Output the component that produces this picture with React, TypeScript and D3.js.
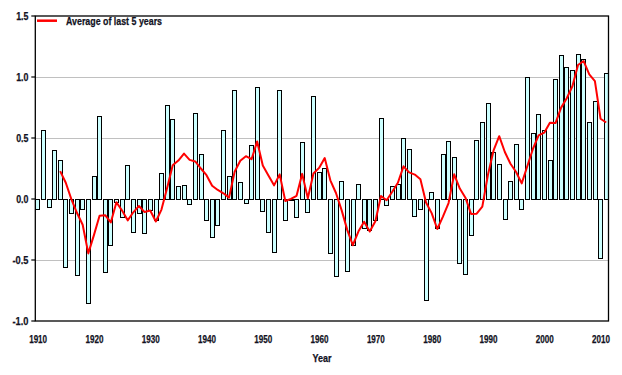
import React from "react";
import * as d3 from "d3";

const years: number[] = d3.range(1910, 2012);

const anomalies: number[] = [
  -0.082, 0.566, -0.066, 0.402, 0.32, -0.557, -0.115, -0.623, -0.082, -0.852,
  0.191, 0.68, -0.601, -0.377, -0.027, -0.15, 0.279, -0.27, -0.115, -0.279,
  -0.087, -0.169, 0.213, 0.77, 0.656, 0.107, 0.115, -0.041, 0.702, 0.369,
  -0.172, -0.311, -0.216, 0.566, 0.189, 0.893, 0.139, -0.033, 0.443, 0.918,
  -0.098, -0.27, -0.434, 0.893, -0.172, -0.011, -0.148, 0.467, -0.107, 0.844,
  0.221, 0.254, -0.445, -0.631, 0.148, -0.593, -0.374, 0.126, -0.238, -0.251,
  -0.175, 0.664, -0.052, 0.107, 0.123, 0.5, 0.41, -0.139, -0.082, -0.828,
  0.057, -0.238, 0.369, 0.475, 0.347, -0.525, -0.612, -0.295, 0.484, 0.631,
  0.787, 0.385, 0.287, -0.164, 0.148, 0.451, -0.082, 1.0, 0.541, 0.697,
  0.566, 0.32, 0.984, 1.18, 1.08, 1.057, 1.19, 1.148, 0.631, 0.806,
  -0.484, 1.033,
];

const avgYears: number[] = d3.range(1914, 2012);
const avgValues: number[] = [
  0.228, 0.133, -0.003, -0.115, -0.211, -0.446,
  -0.296, -0.137, -0.133, -0.192, -0.027, -0.095, -0.175, -0.109, -0.057, -0.107,
  -0.094, -0.184, -0.087, 0.09, 0.277, 0.315, 0.372, 0.321, 0.308, 0.25,
  0.195, 0.109, 0.074, 0.047, 0.011, 0.224, 0.314, 0.351, 0.326, 0.472,
  0.274, 0.192, 0.112, 0.202, -0.016, 0.001, 0.026, 0.206, 0.006, 0.209,
  0.255, 0.336, 0.153, 0.049, -0.091, -0.253, -0.379, -0.265, -0.186, -0.266,
  -0.182, 0.025, -0.01, 0.059, 0.133, 0.268, 0.218, 0.2, 0.162, -0.028,
  -0.116, -0.246, -0.144, -0.033, 0.202, 0.086, 0.011, -0.122, -0.12, -0.063,
  0.199, 0.398, 0.515, 0.385, 0.289, 0.221, 0.128, 0.271, 0.412, 0.521,
  0.544, 0.625, 0.622, 0.749, 0.826, 0.924, 1.098, 1.131, 1.021, 0.966,
  0.658, 0.627,
];

const yTicks: number[] = [-1.0, -0.5, 0.0, 0.5, 1.0, 1.5];
const xTickYears: number[] = [1910, 1920, 1930, 1940, 1950, 1960, 1970, 1980, 1990, 2000, 2010];
const legendLabel = "Average of last 5 years";
const xTitle = "Year";

const W = 622;
const H = 375;
const left = 35.3;
const right = 608.5;
const top = 16;
const bottom = 321;

const FONT = "'Liberation Sans Narrow', 'Arial Narrow', 'Liberation Sans', Arial, sans-serif";
const TEXT_COLOR = "#111122";
const textStyle = {
  fontSize: 11.5,
  fontWeight: "bold" as const,
  fill: TEXT_COLOR,
  stroke: TEXT_COLOR,
  strokeWidth: 0.25,
};

export default function App() {
  const x = d3
    .scaleBand<number>()
    .domain(years)
    .range([left, right])
    .paddingInner(0.17)
    .paddingOuter(0);
  const y = d3.scaleLinear().domain([-1, 1.5]).range([bottom, top]);
  const bw = x.bandwidth();

  const line = d3
    .line<number>()
    .x((_, i) => (x(avgYears[i]) as number) + bw / 2)
    .y((d) => y(d));

  return (
    <svg
      width={W}
      height={H}
      style={{ position: "absolute", left: 0, top: 0, background: "#fff" }}
      fontFamily={FONT}
    >
      {/* gridlines */}
      {yTicks
        .filter((t) => t !== 0 && t !== -1 && t !== 1.5)
        .map((t) => (
          <line
            key={"g" + t}
            x1={left}
            x2={right}
            y1={Math.round(y(t)) + 0.5}
            y2={Math.round(y(t)) + 0.5}
            stroke="#c0c0c0"
            strokeWidth={1}
          />
        ))}
      {/* bars */}
      {years.map((yr, i) => {
        const v = anomalies[i];
        const y0 = y(0);
        const y1 = y(v);
        const bx = Math.round(x(yr) as number) + 0.5;
        return (
          <rect
            key={yr}
            x={bx}
            y={Math.round(Math.min(y0, y1)) + 0.5}
            width={Math.round(bw) - 1}
            height={Math.round(Math.abs(y1 - y0))}
            fill="#ccffff"
            stroke="#000"
            strokeWidth={1}
          />
        );
      })}
      {/* average line */}
      <path
        d={line(avgValues) || ""}
        fill="none"
        stroke="#ff0000"
        strokeWidth={2}
        strokeLinejoin="round"
      />
      {/* frame */}
      <rect
        x={left}
        y={top}
        width={right - left}
        height={bottom - top}
        fill="none"
        stroke="#000"
        strokeWidth={1.3}
      />
      {/* y ticks */}
      {yTicks.map((t) => {
        const label = t.toFixed(1);
        return (
          <g key={"yt" + t}>
            <line
              x1={left - 4}
              x2={left}
              y1={y(t)}
              y2={y(t)}
              stroke="#000"
              strokeWidth={1.2}
            />
            <text
              x={28.5}
              y={y(t)}
              dy="0.35em"
              textAnchor="end"
              {...textStyle}
              textLength={label.startsWith("-") ? 16 : 12.3}
              lengthAdjust="spacingAndGlyphs"
            >
              {label}
            </text>
          </g>
        );
      })}
      {/* x labels */}
      {xTickYears.map((yr) => (
        <text
          key={"xt" + yr}
          x={(x(yr) as number) + bw / 2 + 0.5}
          y={343}
          textAnchor="middle"
          {...textStyle}
          textLength={18}
          lengthAdjust="spacingAndGlyphs"
        >
          {yr}
        </text>
      ))}
      <text
        x={322}
        y={362}
        textAnchor="middle"
        {...textStyle}
        textLength={19}
        lengthAdjust="spacingAndGlyphs"
      >
        {xTitle}
      </text>
      {/* legend */}
      <line x1={37} x2={57} y1={20.7} y2={20.7} stroke="#ff0000" strokeWidth={2.5} />
      <text
        x={66}
        y={25}
        {...textStyle}
        textLength={96}
        lengthAdjust="spacingAndGlyphs"
      >
        {legendLabel}
      </text>
    </svg>
  );
}
